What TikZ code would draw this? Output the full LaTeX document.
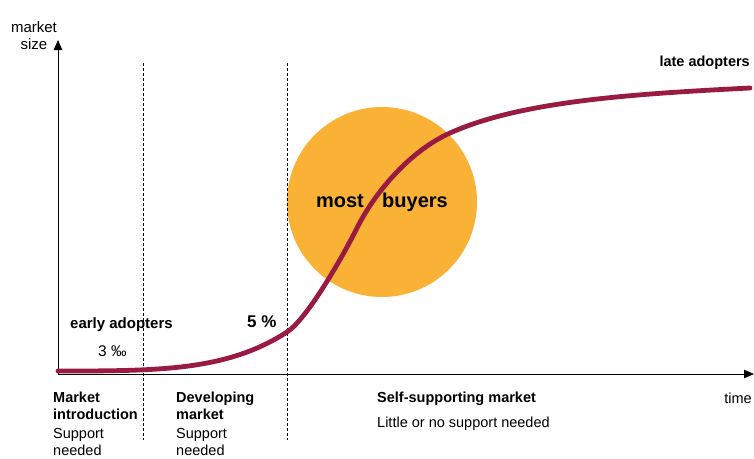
\documentclass[tikz,border=0pt]{standalone}
\usepackage{fontspec}
\setmainfont{Liberation Sans}
\usetikzlibrary{arrows.meta}
\definecolor{curvered}{HTML}{9A1B42}
\definecolor{buyorange}{HTML}{F9B236}
\begin{document}
\begin{tikzpicture}[x=1pt,y=-1pt,
  lbl/.style={inner sep=0pt,anchor=base west,font=\fontsize{14.5}{17}\selectfont},
  blbl/.style={lbl,font=\fontsize{14.5}{17}\selectfont\bfseries},
  axis/.style={line width=1pt,-{Triangle[length=10pt,width=8.5pt]}},
  divider/.style={line width=0.6pt,dash pattern=on 3pt off 2pt}]
\useasboundingbox (0,0) rectangle (754,458);
% circle
\node[circle,fill=buyorange,minimum size=190pt,inner sep=0pt] (buyers) at (382,202) {};
% axes
\coordinate (o) at (58,374);
\coordinate (ytip) at (58,40);
\coordinate (xtip) at (754,374);
\draw[axis] (o) -- (ytip);
\draw[axis] (o) -- (xtip);
% dividers
\coordinate (d1t) at (143,63); \coordinate (d1b) at (143,440);
\coordinate (d2t) at (287,63); \coordinate (d2b) at (287,440);
\draw[divider] (d1t) -- (d1b);
\draw[divider] (d2t) -- (d2b);
% curve
\coordinate (cA) at (58,371);
\coordinate (cB) at (287,332);
\coordinate (cP) at (357,228);
\coordinate (cQ) at (450,133);
\coordinate (cR) at (750,88);
\draw[curvered,line width=4.8pt,line cap=round]
  (cA) .. controls (158,371) and (227,371) .. (cB)
       .. controls (307,319) and (342,258) .. (cP)
       .. controls (375,192) and (410,151) .. (cQ)
       .. controls (520,101.5) and (630,94) .. (cR);
% texts
\node[lbl,anchor=base,font=\fontsize{15}{17}\selectfont] (ylab1) at (34,32) {market};
\node[lbl,anchor=base,font=\fontsize{15}{17}\selectfont] (ylab2) at (34,49) {size};
\node[lbl,anchor=base east] (time) at (752,403) {time};
\node[blbl,font=\fontsize{15}{17}\selectfont\bfseries] (early) at (70,328) {early adopters};
\node[lbl,font=\fontsize{15.5}{17}\selectfont] (three) at (98,356) {3 ‰};
\node[lbl,font=\fontsize{17}{20}\selectfont\bfseries] (five) at (247,327) {5 \%};
\node[lbl,anchor=base,font=\fontsize{20}{24}\selectfont\bfseries] (most) at (340,207) {most};
\node[lbl,anchor=base,font=\fontsize{20}{24}\selectfont\bfseries] (buy) at (415,207) {buyers};
\node[blbl,anchor=base east] (late) at (750,66) {late adopters};
\node[blbl] (intro1) at (53,402) {Market};
\node[blbl] (intro2) at (53,419) {introduction};
\node[lbl] (intro3) at (53,438) {Support};
\node[lbl] (intro4) at (53,455) {needed};
\node[blbl] (dev1) at (176,402) {Developing};
\node[blbl] (dev2) at (176,419) {market};
\node[lbl] (dev3) at (176,438) {Support};
\node[lbl] (dev4) at (176,455) {needed};
\node[blbl] (self) at (377,402) {Self-supporting market};
\node[lbl] (little) at (377,427) {Little or no support needed};
\end{tikzpicture}
\end{document}
